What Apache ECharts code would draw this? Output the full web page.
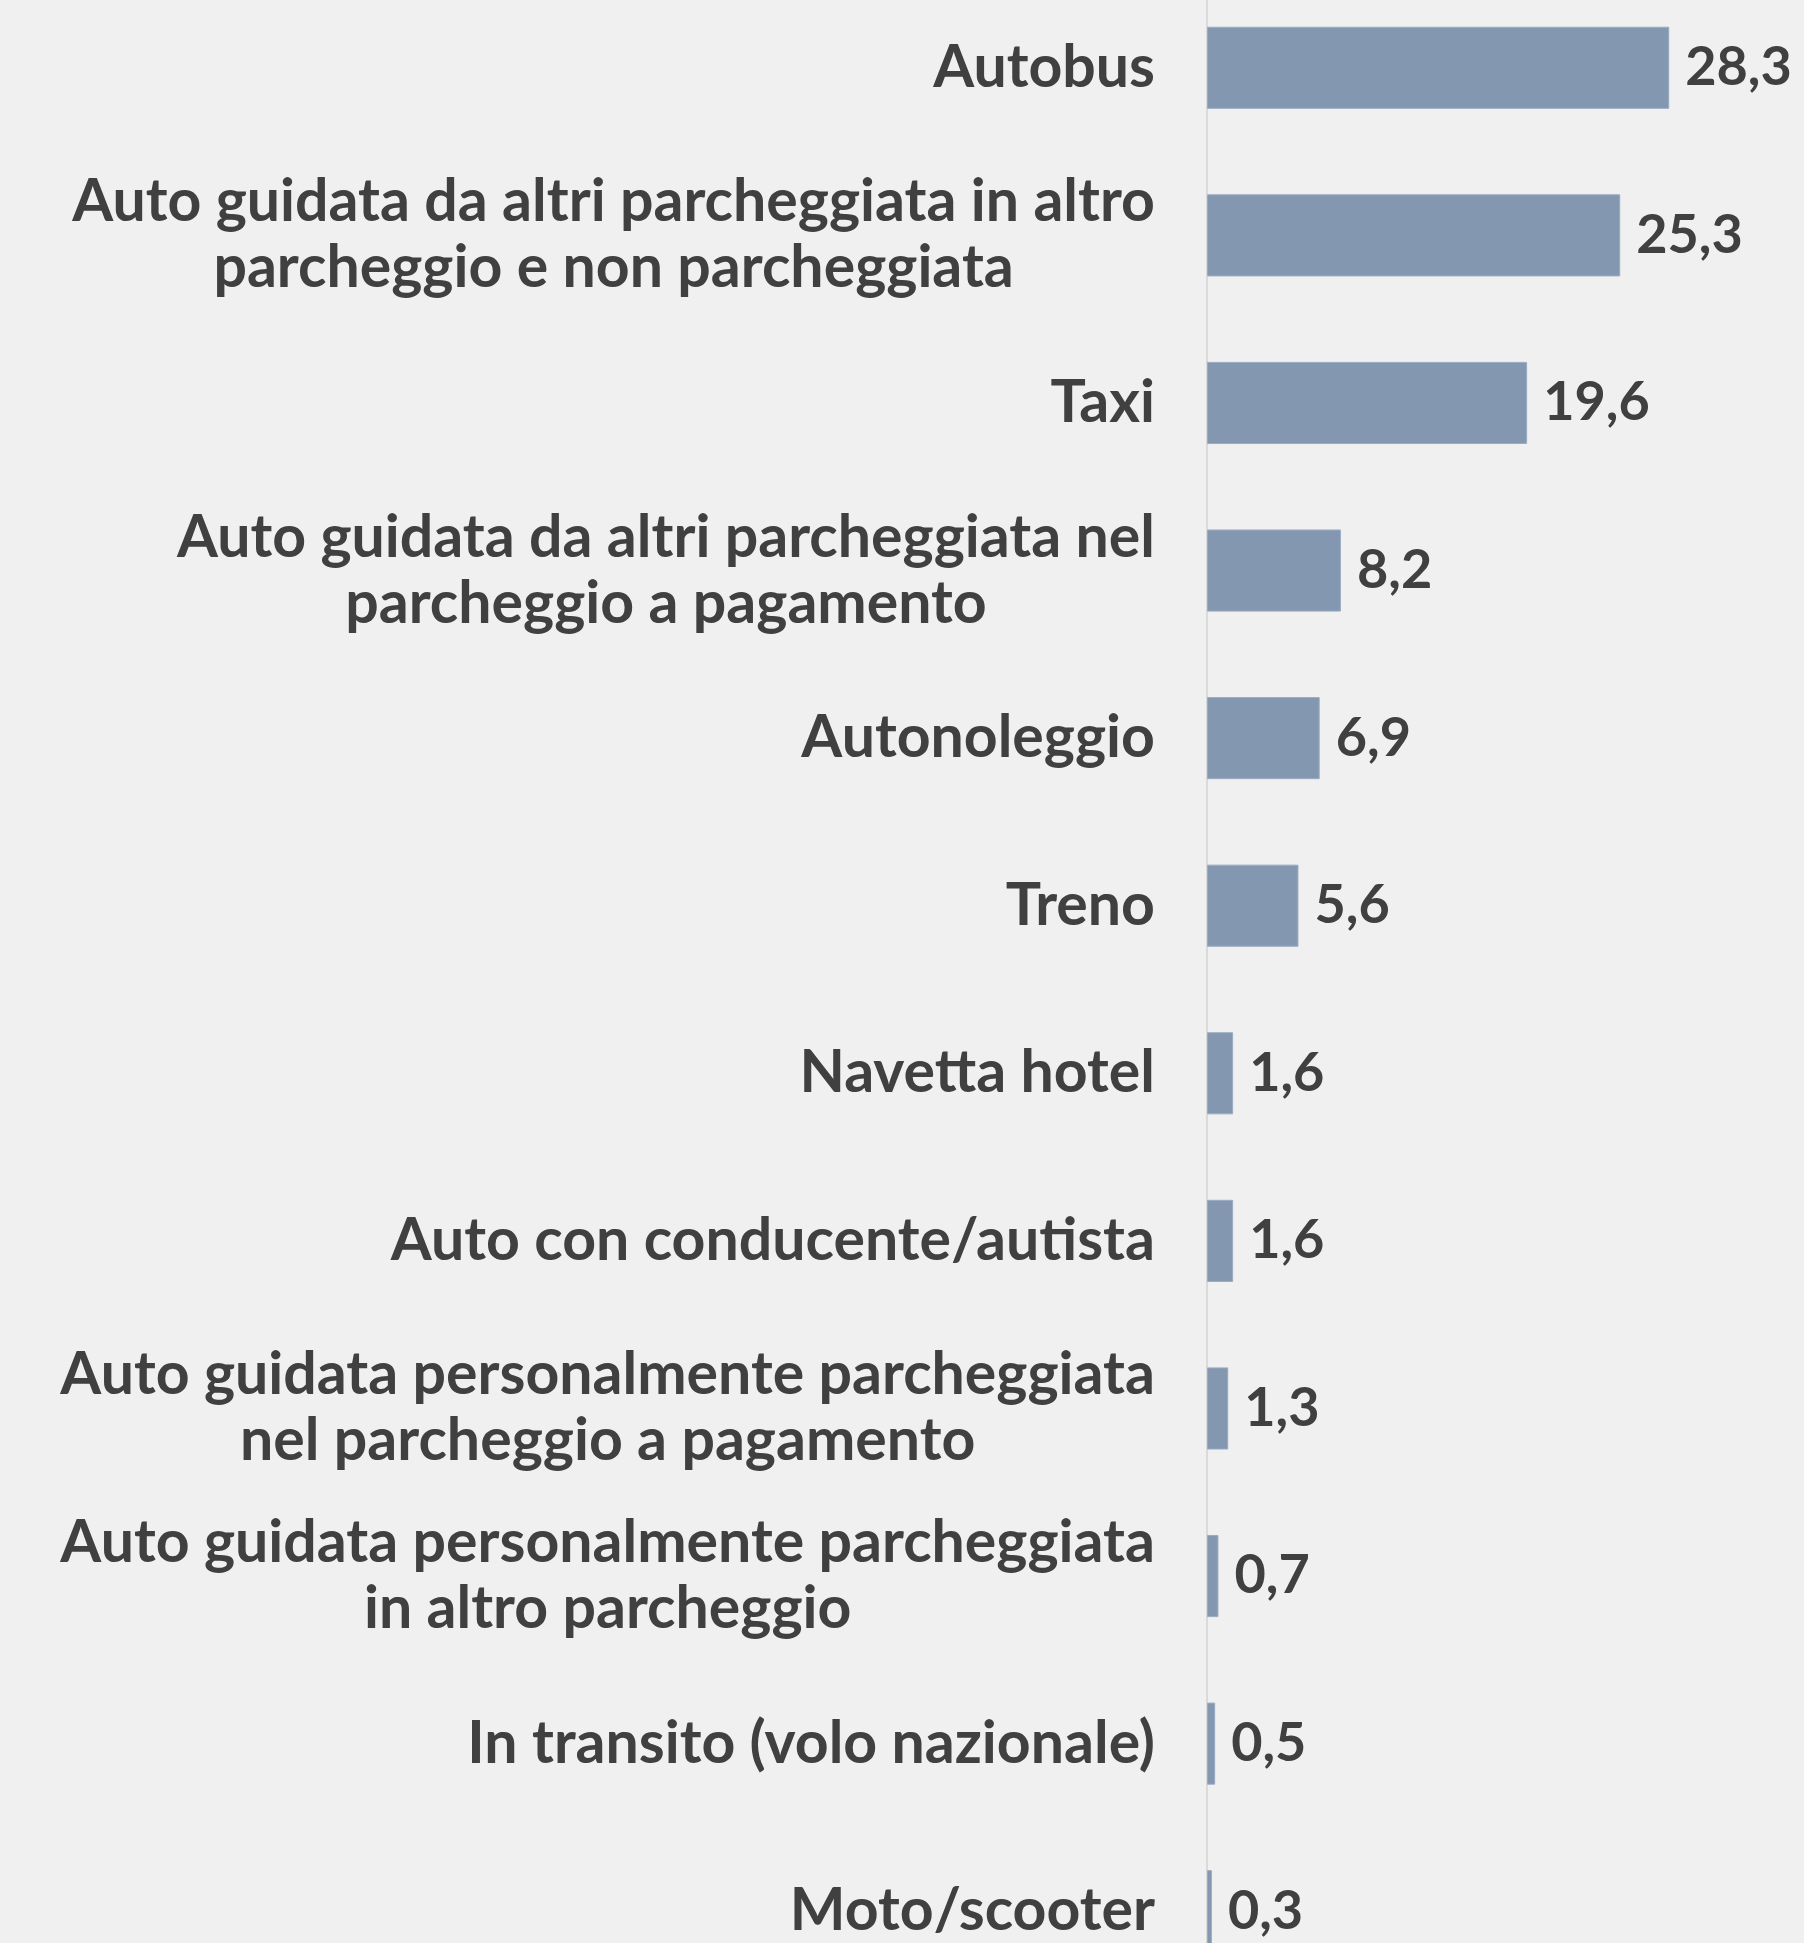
<!DOCTYPE html>
<html>
<head>
<meta charset="utf-8">
<script src="https://cdn.jsdelivr.net/npm/echarts@6/dist/echarts.min.js"></script>
<style>
html,body{margin:0;padding:0;background:#f0f0f0;}
#chart{width:1804px;height:1943px;}
</style>
</head>
<body>
<div id="chart"></div>
<script>
const categories = [
  "Autobus",
  "Auto guidata da altri parcheggiata in altro\nparcheggio e non parcheggiata",
  "Taxi",
  "Auto guidata da altri parcheggiata nel\nparcheggio a pagamento",
  "Autonoleggio",
  "Treno",
  "Navetta hotel",
  "Auto con conducente/autista",
  "Auto guidata personalmente parcheggiata\nnel parcheggio a pagamento",
  "Auto guidata personalmente parcheggiata\nin altro parcheggio",
  "In transito (volo nazionale)",
  "Moto/scooter"
];
const values = [28.3, 25.3, 19.6, 8.2, 6.9, 5.6, 1.6, 1.6, 1.3, 0.7, 0.5, 0.3];

const FONT = 'Lato';
const chart = echarts.init(document.getElementById('chart'));
chart.setOption({
  backgroundColor: '#f0f0f0',
  animation: false,
  grid: { left: 1207, width: 490, top: -16, height: 2011, outerBoundsMode: 'none', containLabel: false },
  xAxis: {
    type: 'value', min: 0, max: 30,
    show: false
  },
  yAxis: {
    type: 'category',
    data: categories,
    inverse: true,
    axisLine: { show: true, lineStyle: { color: '#dadada', width: 2 } },
    axisTick: { show: false },
    axisLabel: {
      margin: 52,
      align: 'right',
      fontFamily: FONT,
      fontWeight: 'bold',
      fontSize: 59,
      color: '#404040',
      lineHeight: 66,
      formatter: function (v) {
        return v.split('\n').map(s => '{c|' + s + '}').join('\n');
      },
      rich: {
        c: { align: 'center', fontFamily: FONT, fontWeight: 'bold', fontSize: 59, color: '#404040', lineHeight: 66 }
      }
    }
  },
  series: [{
    type: 'bar',
    data: values,
    barCategoryGap: '51%',
    itemStyle: { color: '#8497b0', borderColor: '#9aabc2', borderWidth: 1 },
    label: {
      show: true,
      position: 'right',
      distance: 16,
      fontFamily: FONT,
      fontWeight: 'bold',
      fontSize: 54,
      color: '#404040',
      formatter: p => String(p.value).replace('.', ',')
    }
  }]
});
</script>
</body>
</html>
